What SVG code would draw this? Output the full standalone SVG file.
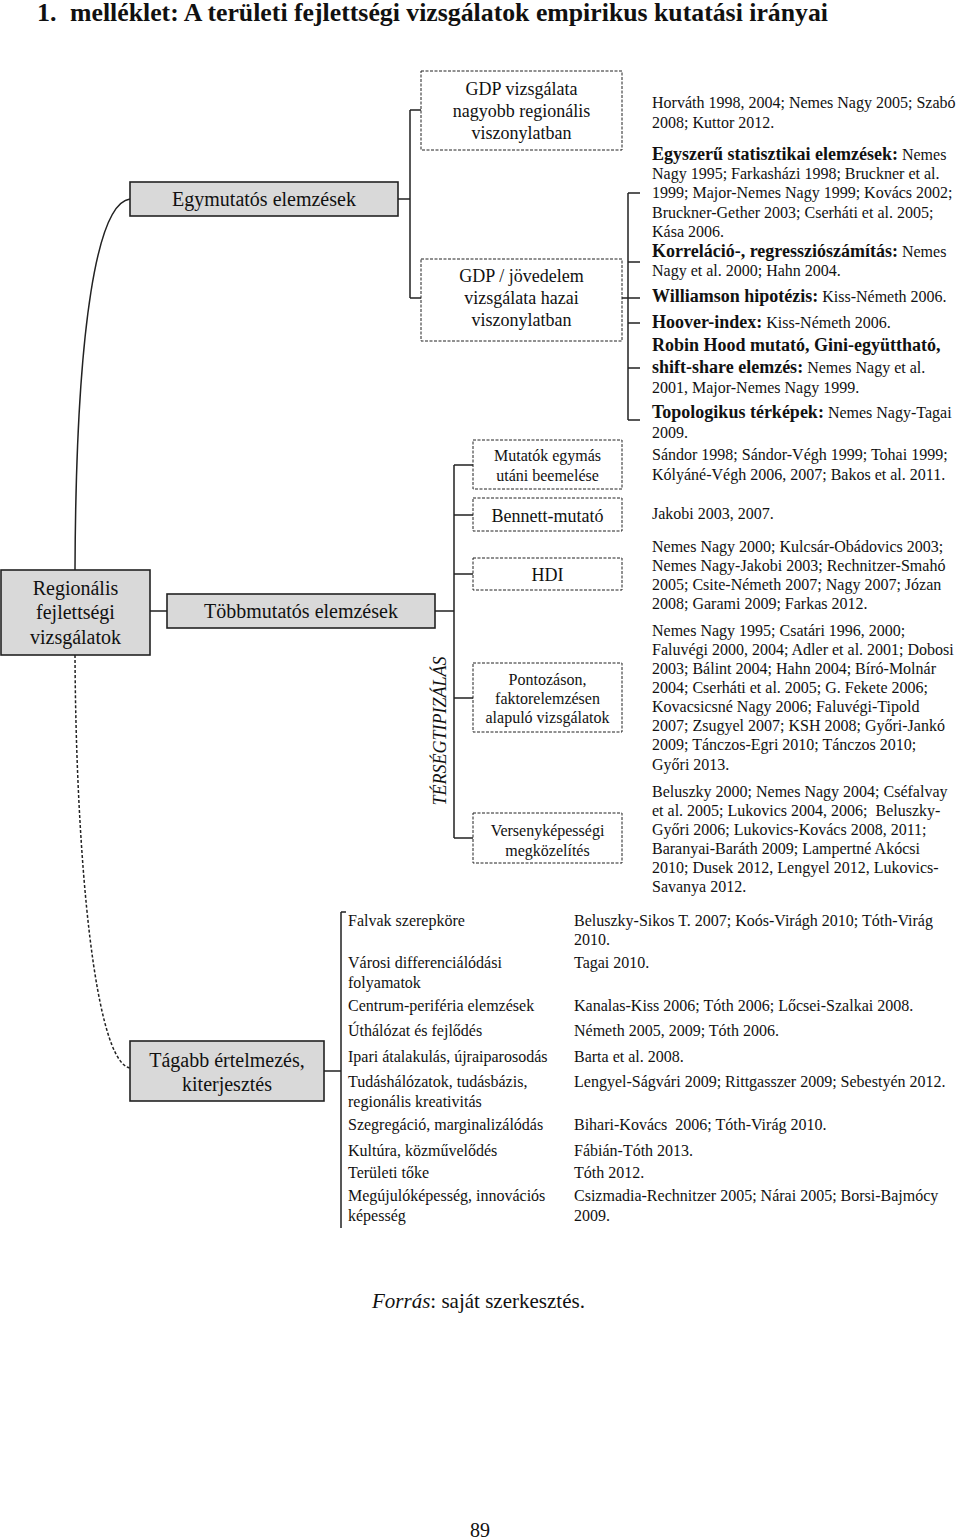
<svg xmlns="http://www.w3.org/2000/svg" width="960" height="1538" viewBox="0 0 960 1538">
<style>
text{font-family:"Liberation Serif","Times New Roman",serif;fill:#111}
.t{font-size:26px;font-weight:bold}
.g{fill:#d9d9d9;stroke:#222;stroke-width:1.6}
.d{fill:#fff;stroke:#222;stroke-width:1;stroke-dasharray:3 1.5}
.c{fill:none;stroke:#222;stroke-width:1.5}
.gl{font-size:20px;text-anchor:middle}
.bl{font-size:18px;text-anchor:middle}
.sl{font-size:16px;text-anchor:middle}
.ct{font-size:16px}
.b{font-size:18px;font-weight:bold}
.li{font-size:16px}
</style>
<rect width="960" height="1538" fill="#fff"/>
<text class="t" x="37" y="21">1.</text>
<text class="t" x="70" y="21" textLength="758" lengthAdjust="spacingAndGlyphs">melléklet: A területi fejlettségi vizsgálatok empirikus kutatási irányai</text>

<g id="connectors">
<path class="c" d="M75,570 C76,320 98,203 130,199"/>
<path class="c" d="M75,655 C76,860 95,1062 130,1068" stroke-dasharray="3 2" stroke-width="1.2"/>
<path class="c" d="M398,199 H410 M410,110 V298 M410,110 H421 M410,298 H421"/>
<path class="c" d="M628,193 V420 M628,193 H640 M628,262 H640 M622,298 H640 M628,323 H640 M628,368 H640 M628,420 H640"/>
<path class="c" d="M150,611 H167 M435,611 H454 M454,465 V838 M454,465 H473 M454,515 H473 M454,574 H473 M454,698 H473 M454,838 H473"/>
<path class="c" d="M324,1071 H341 M341,912 V1228 M341,912 H346"/>
</g>

<g id="regionalis">
<rect class="g" x="1" y="570" width="149" height="85"/>
<text class="gl" x="75.5" y="595">Regionális</text>
<text class="gl" x="75.5" y="619">fejlettségi</text>
<text class="gl" x="75.5" y="644">vizsgálatok</text>
</g>

<g id="egymutatos">
<rect class="g" x="130" y="182" width="268" height="34"/>
<text class="gl" x="264" y="206">Egymutatós elemzések</text>
</g>

<g id="gdp1">
<rect class="d" x="421" y="71" width="201" height="79"/>
<text class="bl" x="521.5" y="95">GDP vizsgálata</text>
<text class="bl" x="521.5" y="117">nagyobb regionális</text>
<text class="bl" x="521.5" y="139">viszonylatban</text>
</g>

<g id="gdp2">
<rect class="d" x="421" y="259" width="201" height="82"/>
<text class="bl" x="521.5" y="282">GDP / jövedelem</text>
<text class="bl" x="521.5" y="304">vizsgálata hazai</text>
<text class="bl" x="521.5" y="326">viszonylatban</text>
</g>

<g id="egy-refs">
<text class="ct" x="652" y="108">Horváth 1998, 2004; Nemes Nagy 2005; Szabó</text>
<text class="ct" x="652" y="128">2008; Kuttor 2012.</text>
<text x="652" y="160"><tspan class="b">Egyszerű statisztikai elemzések:</tspan><tspan class="ct"> Nemes</tspan></text>
<text class="ct" x="652" y="179">Nagy 1995; Farkasházi 1998; Bruckner et al.</text>
<text class="ct" x="652" y="198">1999; Major-Nemes Nagy 1999; Kovács 2002;</text>
<text class="ct" x="652" y="218">Bruckner-Gether 2003; Cserháti et al. 2005;</text>
<text class="ct" x="652" y="237">Kása 2006.</text>
<text x="652" y="257"><tspan class="b">Korreláció-, regressziószámítás:</tspan><tspan class="ct"> Nemes</tspan></text>
<text class="ct" x="652" y="276">Nagy et al. 2000; Hahn 2004.</text>
<text x="652" y="302"><tspan class="b">Williamson hipotézis:</tspan><tspan class="ct"> Kiss-Németh 2006.</tspan></text>
<text x="652" y="328"><tspan class="b">Hoover-index:</tspan><tspan class="ct"> Kiss-Németh 2006.</tspan></text>
<text class="b" x="652" y="351">Robin Hood mutató, Gini-együttható,</text>
<text x="652" y="373"><tspan class="b">shift-share elemzés:</tspan><tspan class="ct"> Nemes Nagy et al.</tspan></text>
<text class="ct" x="652" y="393">2001, Major-Nemes Nagy 1999.</text>
<text x="652" y="418"><tspan class="b">Topologikus térképek:</tspan><tspan class="ct"> Nemes Nagy-Tagai</tspan></text>
<text class="ct" x="652" y="438">2009.</text>
</g>

<g id="tobbmutatos">
<rect class="g" x="167" y="594" width="268" height="34"/>
<text class="gl" x="301" y="618">Többmutatós elemzések</text>
</g>

<text id="tersegtipizalas" x="440" y="731" transform="rotate(-90 440 731)" font-size="18" font-style="italic" text-anchor="middle" dominant-baseline="central">TÉRSÉGTIPIZÁLÁS</text>

<g id="mutatok">
<rect class="d" x="473" y="440" width="149" height="49"/>
<text class="sl" x="547.5" y="461">Mutatók egymás</text>
<text class="sl" x="547.5" y="481">utáni beemelése</text>
<text class="ct" x="652" y="460">Sándor 1998; Sándor-Végh 1999; Tohai 1999;</text>
<text class="ct" x="652" y="480">Kólyáné-Végh 2006, 2007; Bakos et al. 2011.</text>
</g>

<g id="bennett">
<rect class="d" x="473" y="498" width="149" height="33"/>
<text class="bl" x="547.5" y="522">Bennett-mutató</text>
<text class="ct" x="652" y="519">Jakobi 2003, 2007.</text>
</g>

<g id="hdi">
<rect class="d" x="473" y="558" width="149" height="32"/>
<text class="bl" x="547.5" y="581">HDI</text>
<text class="ct" x="652" y="552">Nemes Nagy 2000; Kulcsár-Obádovics 2003;</text>
<text class="ct" x="652" y="571">Nemes Nagy-Jakobi 2003; Rechnitzer-Smahó</text>
<text class="ct" x="652" y="590">2005; Csite-Németh 2007; Nagy 2007; Józan</text>
<text class="ct" x="652" y="609">2008; Garami 2009; Farkas 2012.</text>
</g>

<g id="pontozason">
<rect class="d" x="473" y="663" width="149" height="69"/>
<text class="sl" x="547.5" y="685">Pontozáson,</text>
<text class="sl" x="547.5" y="704">faktorelemzésen</text>
<text class="sl" x="547.5" y="723">alapuló vizsgálatok</text>
<text class="ct" x="652" y="636">Nemes Nagy 1995; Csatári 1996, 2000;</text>
<text class="ct" x="652" y="655">Faluvégi 2000, 2004; Adler et al. 2001; Dobosi</text>
<text class="ct" x="652" y="674">2003; Bálint 2004; Hahn 2004; Bíró-Molnár</text>
<text class="ct" x="652" y="693">2004; Cserháti et al. 2005; G. Fekete 2006;</text>
<text class="ct" x="652" y="712">Kovacsicsné Nagy 2006; Faluvégi-Tipold</text>
<text class="ct" x="652" y="731">2007; Zsugyel 2007; KSH 2008; Győri-Jankó</text>
<text class="ct" x="652" y="750">2009; Tánczos-Egri 2010; Tánczos 2010;</text>
<text class="ct" x="652" y="770">Győri 2013.</text>
</g>

<g id="versenykepessegi">
<rect class="d" x="473" y="813" width="149" height="50"/>
<text class="sl" x="547.5" y="836">Versenyképességi</text>
<text class="sl" x="547.5" y="856">megközelítés</text>
<text class="ct" x="652" y="797">Beluszky 2000; Nemes Nagy 2004; Cséfalvay</text>
<text class="ct" x="652" y="816" xml:space="preserve">et al. 2005; Lukovics 2004, 2006;  Beluszky-</text>
<text class="ct" x="652" y="835">Győri 2006; Lukovics-Kovács 2008, 2011;</text>
<text class="ct" x="652" y="854">Baranyai-Baráth 2009; Lampertné Akócsi</text>
<text class="ct" x="652" y="873">2010; Dusek 2012, Lengyel 2012, Lukovics-</text>
<text class="ct" x="652" y="892">Savanya 2012.</text>
</g>

<g id="tagabb">
<rect class="g" x="130" y="1041" width="194" height="60"/>
<text class="gl" x="227" y="1067">Tágabb értelmezés,</text>
<text class="gl" x="227" y="1091">kiterjesztés</text>
</g>

<g id="tagabb-list">
<text class="li" x="348" y="926">Falvak szerepköre</text>
<text class="li" x="574" y="926">Beluszky-Sikos T. 2007; Koós-Virágh 2010; Tóth-Virág</text>
<text class="li" x="574" y="945">2010.</text>
<text class="li" x="348" y="968">Városi differenciálódási</text>
<text class="li" x="348" y="988">folyamatok</text>
<text class="li" x="574" y="968">Tagai 2010.</text>
<text class="li" x="348" y="1011">Centrum-periféria elemzések</text>
<text class="li" x="574" y="1011">Kanalas-Kiss 2006; Tóth 2006; Lőcsei-Szalkai 2008.</text>
<text class="li" x="348" y="1036">Úthálózat és fejlődés</text>
<text class="li" x="574" y="1036">Németh 2005, 2009; Tóth 2006.</text>
<text class="li" x="348" y="1062">Ipari átalakulás, újraiparosodás</text>
<text class="li" x="574" y="1062">Barta et al. 2008.</text>
<text class="li" x="348" y="1087">Tudáshálózatok, tudásbázis,</text>
<text class="li" x="348" y="1107">regionális kreativitás</text>
<text class="li" x="574" y="1087">Lengyel-Ságvári 2009; Rittgasszer 2009; Sebestyén 2012.</text>
<text class="li" x="348" y="1130">Szegregáció, marginalizálódás</text>
<text class="li" x="574" y="1130" xml:space="preserve">Bihari-Kovács  2006; Tóth-Virág 2010.</text>
<text class="li" x="348" y="1156">Kultúra, közművelődés</text>
<text class="li" x="574" y="1156">Fábián-Tóth 2013.</text>
<text class="li" x="348" y="1178">Területi tőke</text>
<text class="li" x="574" y="1178">Tóth 2012.</text>
<text class="li" x="348" y="1201">Megújulóképesség, innovációs</text>
<text class="li" x="348" y="1221">képesség</text>
<text class="li" x="574" y="1201">Csizmadia-Rechnitzer 2005; Nárai 2005; Borsi-Bajmócy</text>
<text class="li" x="574" y="1221">2009.</text>
</g>

<text x="372" y="1308" font-size="21"><tspan font-style="italic">Forrás</tspan>: saját szerkesztés.</text>
<text x="480" y="1537" font-size="20" text-anchor="middle">89</text>
</svg>
